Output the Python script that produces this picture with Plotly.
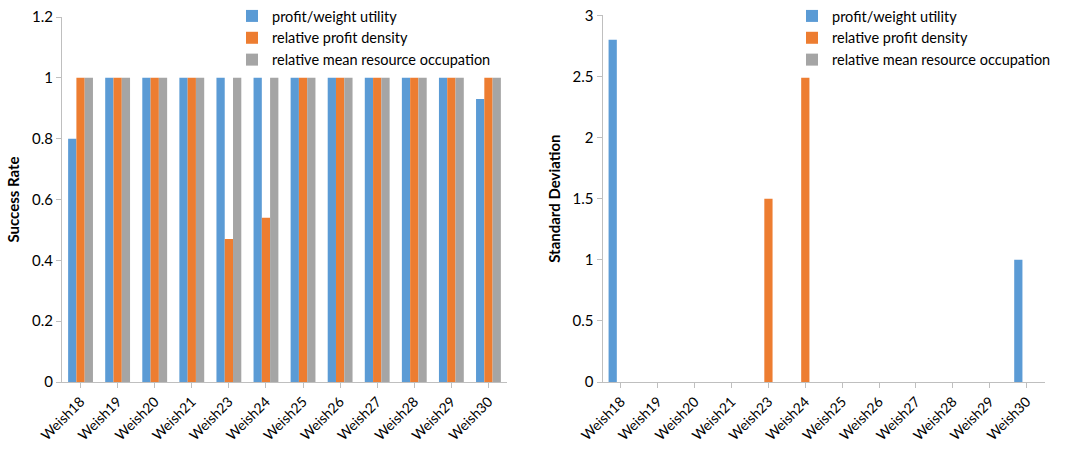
import plotly.graph_objects as go

# Benchmark instances
instances = ["Weish18", "Weish19", "Weish20", "Weish21", "Weish23", "Weish24",
             "Weish25", "Weish26", "Weish27", "Weish28", "Weish29", "Weish30"]

series_names = ["profit/weight utility", "relative profit density",
                "relative mean resource occupation"]
colors = ["#5B9BD5", "#ED7D31", "#A5A5A5"]

# Success rate per strategy
success_pw = [0.80, 1, 1, 1, 1, 1, 1, 1, 1, 1, 1, 0.93]
success_rpd = [1, 1, 1, 1, 0.47, 0.54, 1, 1, 1, 1, 1, 1]
success_rmro = [1, 1, 1, 1, 1, 1, 1, 1, 1, 1, 1, 1]

# Standard deviation per strategy
std_pw = [2.8, 0, 0, 0, 0, 0, 0, 0, 0, 0, 0, 1.0]
std_rpd = [0, 0, 0, 0, 1.5, 2.49, 0, 0, 0, 0, 0, 0]
std_rmro = [0, 0, 0, 0, 0, 0, 0, 0, 0, 0, 0, 0]

FONT = "Lato, 'Open Sans', sans-serif"
W, H = 1072, 449

fig = go.Figure()

for name, col, vals in zip(series_names, colors, [success_pw, success_rpd, success_rmro]):
    fig.add_trace(go.Bar(x=instances, y=vals, name=name, marker_color=col,
                         marker_line_width=0,
                         xaxis="x", yaxis="y", legend="legend"))

for name, col, vals in zip(series_names, colors, [std_pw, std_rpd, std_rmro]):
    fig.add_trace(go.Bar(x=instances, y=vals, name=name, marker_color=col,
                         marker_line_width=0,
                         xaxis="x2", yaxis="y2", legend="legend2"))

axis_line = "#BFBFBF"
xcommon = dict(showgrid=False, showline=True, linecolor=axis_line, linewidth=1,
               ticks="outside", ticklen=5, tickcolor=axis_line, tickangle=-45,
               tickfont=dict(size=14, color="#000", family=FONT), zeroline=False,
               automargin=False)
ycommon = dict(showgrid=False, showline=True, linecolor=axis_line, linewidth=1,
               ticks="outside", ticklen=5, tickcolor=axis_line,
               tickfont=dict(size=15, color="#000", family=FONT), zeroline=False,
               automargin=False)

legend_common = dict(font=dict(size=14.5, color="#000", family=FONT),
                     bgcolor="rgba(0,0,0,0)", tracegroupgap=0,
                     xanchor="left", yanchor="top", itemwidth=30)

fig.update_layout(
    width=W, height=H,
    margin=dict(l=0, r=0, t=0, b=0),
    paper_bgcolor="white", plot_bgcolor="white",
    barmode="group", bargap=0.33, bargroupgap=0,
    font=dict(family=FONT, color="#000"),
    xaxis=dict(domain=[62 / W, 507 / W], anchor="y", **xcommon),
    yaxis=dict(domain=[1 - 382 / H, 1 - 17 / H], anchor="x", range=[0, 1.2], dtick=0.2,
               title=dict(text="<b>Success Rate</b>", font=dict(size=15, family=FONT),
                          standoff=8),
               **ycommon),
    xaxis2=dict(domain=[602.5 / W, 1045 / W], anchor="y2", **xcommon),
    yaxis2=dict(domain=[1 - 382 / H, 1 - 15.3 / H], anchor="x2", range=[0, 3], dtick=0.5,
                title=dict(text="<b>Standard Deviation</b>", font=dict(size=15, family=FONT),
                           standoff=8),
                **ycommon),
    legend=dict(x=232 / W, y=1, **legend_common),
    legend2=dict(x=792 / W, y=1, **legend_common),
)

fig.write_html("out.html")
